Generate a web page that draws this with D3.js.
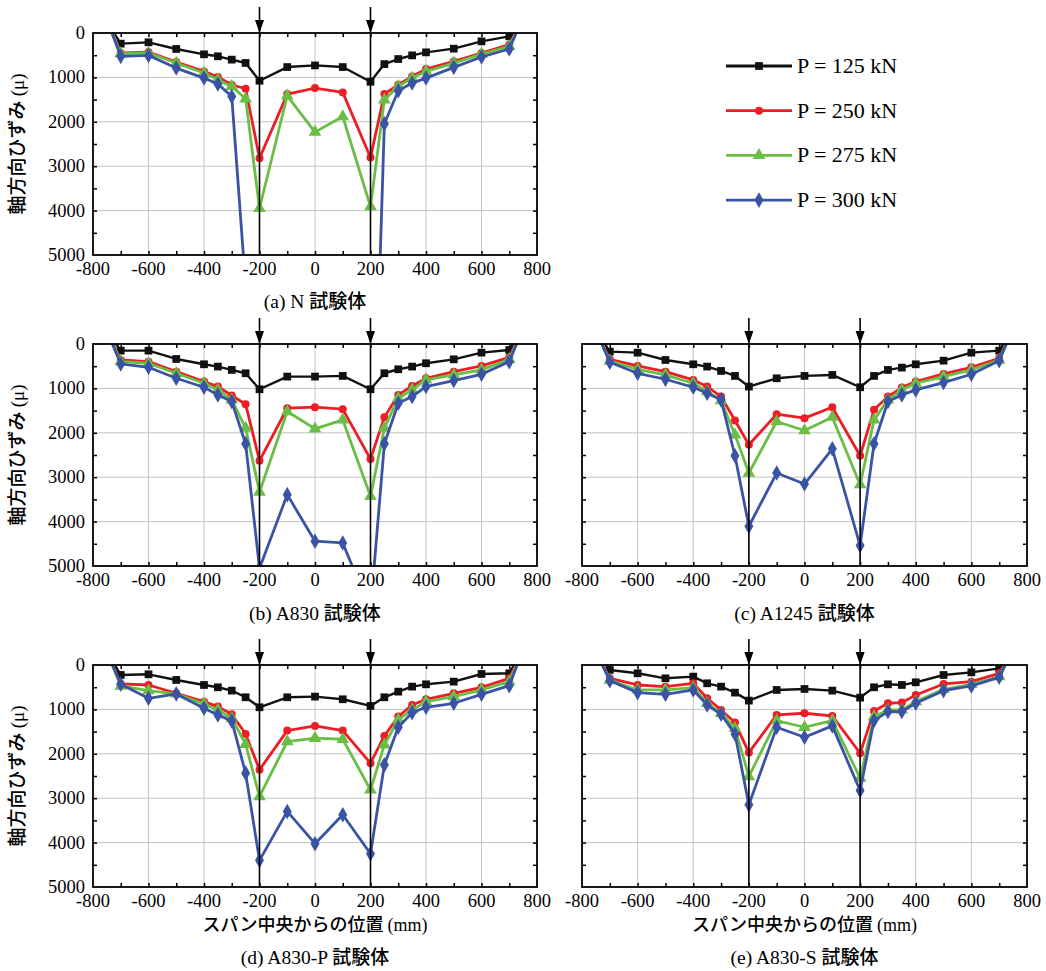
<!DOCTYPE html>
<html>
<head>
<meta charset="utf-8">
<script src="https://cdn.jsdelivr.net/npm/d3@7"></script>
<style>
  body { margin: 0; background: #fff; }
  svg { display: block; }
</style>
</head>
<body>
<script>
// Measuring positions along the span (mm); the end points lie above the chart and get clipped
const positions = [-750, -700, -600, -500, -400, -350, -300, -250, -200, -100, 0, 100, 200, 250, 300, 350, 400, 500, 600, 700, 750];

// Load levels shown in the legend
const loads = ["P = 125 kN", "P = 250 kN", "P = 275 kN", "P = 300 kN"];

// Tick labels
const xTicks = [-800, -600, -400, -200, 0, 200, 400, 600, 800];
const yTicks = [0, 1000, 2000, 3000, 4000, 5000];

// (a) N specimen
const n125 = [-250, 240, 210, 360, 480, 525, 600, 675, 1075, 767, 730, 767, 1098, 700, 586, 504, 436, 353, 188, 75, -350];
const n250 = [-300, 450, 430, 654, 865, 993, 1165, 1256, 2820, 1376, 1240, 1338, 2805, 1376, 1165, 977, 812, 639, 450, 263, -350];
const n275 = [-300, 466, 450, 677, 902, 1053, 1203, 1481, 3947, 1414, 2233, 1880, 3910, 1504, 1203, 1015, 865, 677, 474, 300, -350];
const n300 = [-300, 526, 504, 790, 1015, 1150, 1428, 5700, 12000, null, null, null, 12000, 2045, 1300, 1128, 1015, 774, 541, 360, -350];

// (b) A830 specimen
const b125 = [-300, 150, 150, 337, 457, 509, 584, 659, 1019, 734, 734, 719, 1019, 659, 569, 509, 434, 345, 195, 135, -350];
const b250 = [-300, 360, 397, 622, 846, 959, 1161, 1356, 2629, 1446, 1423, 1468, 2592, 1648, 1146, 944, 772, 622, 494, 300, -350];
const b275 = [-300, 397, 434, 659, 884, 1034, 1258, 1895, 3333, 1520, 1910, 1708, 3430, 1895, 1221, 1034, 809, 697, 584, 345, -350];
const b300 = [-300, 450, 524, 772, 974, 1146, 1296, 2247, 5050, 3393, 4442, 4480, 6000, 2247, 1333, 1183, 959, 824, 682, 397, -350];

// (c) A1245 specimen
const c125 = [-300, 172, 195, 360, 457, 509, 607, 719, 959, 772, 719, 697, 974, 719, 584, 532, 457, 375, 195, 150, -350];
const c250 = [-300, 345, 494, 622, 809, 959, 1184, 1723, 2270, 1581, 1670, 1423, 2517, 1483, 1184, 981, 846, 674, 524, 322, -350];
const c275 = [-300, 382, 569, 697, 884, 1071, 1273, 2045, 2906, 1745, 1948, 1648, 3169, 1708, 1258, 1034, 884, 734, 584, 360, -350];
const c300 = [-300, 412, 659, 794, 974, 1109, 1258, 2517, 4105, 2906, 3154, 2360, 4539, 2247, 1296, 1146, 1034, 869, 682, 375, -350];

// (d) A830-P specimen
const d125 = [-300, 225, 210, 337, 450, 502, 577, 727, 952, 727, 712, 772, 922, 727, 600, 487, 435, 375, 202, 187, -350];
const d250 = [-300, 427, 450, 637, 825, 937, 1109, 1552, 2361, 1477, 1372, 1477, 2211, 1597, 1162, 900, 772, 637, 502, 300, -350];
const d275 = [-300, 472, 577, 652, 877, 1012, 1199, 1784, 2961, 1724, 1649, 1672, 2811, 1799, 1237, 1012, 825, 712, 562, 375, -350];
const d300 = [-300, 435, 750, 652, 975, 1124, 1259, 2436, 4400, 3298, 4025, 3373, 4250, 2249, 1402, 1072, 952, 862, 660, 465, -350];

// (e) A830-S specimen
const e125 = [-300, 112, 187, 300, 262, 412, 487, 622, 802, 562, 540, 577, 735, 502, 435, 450, 390, 225, 165, 75, -350];
const e250 = [-300, 300, 450, 487, 412, 750, 1012, 1297, 1972, 1124, 1087, 1147, 1987, 1034, 862, 847, 675, 427, 375, 187, -350];
const e275 = [-300, 337, 562, 562, 510, 862, 1087, 1424, 2511, 1252, 1402, 1252, 2549, 1162, 1012, 1012, 825, 547, 435, 262, -350];
const e300 = [-300, 352, 622, 660, 562, 900, 1109, 1552, 3148, 1402, 1627, 1372, 2826, 1252, 1049, 1049, 862, 577, 472, 277, -350];

const colors = ["#111111", "#ee1c25", "#6abd45", "#3a53a4"];
const symbols = [d3.symbolSquare, d3.symbolCircle, d3.symbolTriangle, d3.symbolDiamond];
const symbolSizes = [60, 50, 70, 70];

const serif = "'Liberation Serif', 'Times New Roman', serif";
const jp = "'Noto Sans CJK JP', sans-serif";

const panels = [
  { id: "a", left: 93, right: 537, top: 33, bottom: 255, yLabels: true, xTitle: false, capY: 308, label: "(a) N ", series: [n125, n250, n275, n300] },
  { id: "b", left: 93, right: 537, top: 344, bottom: 566, yLabels: true, xTitle: false, capY: 620, label: "(b) A830 ", series: [b125, b250, b275, b300] },
  { id: "c", left: 582, right: 1027, top: 344, bottom: 566, yLabels: false, xTitle: false, capY: 620, label: "(c) A1245 ", series: [c125, c250, c275, c300] },
  { id: "d", left: 93, right: 537, top: 665, bottom: 887, yLabels: true, xTitle: true, capY: 964, label: "(d) A830-P ", series: [d125, d250, d275, d300] },
  { id: "e", left: 582, right: 1027, top: 665, bottom: 887, yLabels: false, xTitle: true, capY: 964, label: "(e) A830-S ", series: [e125, e250, e275, e300] }
];

const width = 1046;
const height = 971;

const svg = d3.select("body")
  .append("svg")
  .attr("width", width)
  .attr("height", height);

panels.forEach(p => {
  const x = d3.scaleLinear().domain([-800, 800]).range([p.left, p.right]);
  const y = d3.scaleLinear().domain([0, 5000]).range([p.top, p.bottom]);
  const g = svg.append("g");

  // clip area for the curves
  svg.append("clipPath")
    .attr("id", "clip-" + p.id)
    .append("rect")
    .attr("x", p.left)
    .attr("y", p.top)
    .attr("width", p.right - p.left)
    .attr("height", p.bottom - p.top);

  // grid lines
  g.selectAll(".gx")
    .data(d3.range(-600, 601, 200))
    .enter()
    .append("line")
    .attr("x1", d => x(d)).attr("x2", d => x(d))
    .attr("y1", p.top).attr("y2", p.bottom)
    .attr("stroke", "#c4c4c4").attr("stroke-width", 1);
  g.selectAll(".gy")
    .data([1000, 2000, 3000, 4000])
    .enter()
    .append("line")
    .attr("x1", p.left).attr("x2", p.right)
    .attr("y1", d => y(d)).attr("y2", d => y(d))
    .attr("stroke", "#c4c4c4").attr("stroke-width", 1);

  // inward ticks, every 100 mm along x and every 500 along y
  const minorX = d3.range(-700, 701, 100);
  g.append("g")
    .attr("transform", `translate(0,${p.bottom})`)
    .call(d3.axisBottom(x).tickValues(minorX).tickSize(-4).tickFormat(""))
    .call(a => a.select(".domain").remove());
  g.append("g")
    .attr("transform", `translate(0,${p.top})`)
    .call(d3.axisTop(x).tickValues(minorX).tickSize(-4).tickFormat(""))
    .call(a => a.select(".domain").remove());
  const minorY = d3.range(500, 4501, 500);
  g.append("g")
    .attr("transform", `translate(${p.left},0)`)
    .call(d3.axisLeft(y).tickValues(minorY).tickSize(-4).tickFormat(""))
    .call(a => a.select(".domain").remove());
  g.append("g")
    .attr("transform", `translate(${p.right},0)`)
    .call(d3.axisRight(y).tickValues(minorY).tickSize(-4).tickFormat(""))
    .call(a => a.select(".domain").remove());
  g.selectAll(".tick line").attr("stroke", "#000").attr("stroke-width", 1.5);

  // x tick labels
  g.selectAll(".xl")
    .data(xTicks)
    .enter()
    .append("text")
    .attr("x", d => x(d))
    .attr("y", p.bottom + 20)
    .attr("text-anchor", "middle")
    .attr("font-family", serif)
    .attr("font-size", 18.5)
    .text(d => d);

  // y tick labels only on the left column
  if (p.yLabels) {
    g.selectAll(".yl")
      .data(yTicks)
      .enter()
      .append("text")
      .attr("x", p.left - 8)
      .attr("y", d => y(d) + 6)
      .attr("text-anchor", "end")
      .attr("font-family", serif)
      .attr("font-size", 18.5)
      .text(d => d);

    const yt = g.append("text")
      .attr("transform", `translate(24,${(p.top + p.bottom) / 2}) rotate(-90)`)
      .attr("text-anchor", "middle");
    yt.append("tspan").attr("font-family", jp).attr("font-size", 19).attr("font-weight", 500).text("軸方向ひずみ ");
    yt.append("tspan").attr("font-family", serif).attr("font-size", 19).text("(μ)");
  }

  // curves
  const line = d3.line()
    .defined(d => d[1] !== null)
    .x(d => x(d[0]))
    .y(d => y(d[1]));

  const plot = g.append("g").attr("clip-path", `url(#clip-${p.id})`);
  p.series.forEach((vals, i) => {
    const pts = positions.map((pos, k) => [pos, vals[k]]);
    plot.append("path")
      .datum(pts)
      .attr("fill", "none")
      .attr("stroke", colors[i])
      .attr("stroke-width", i === 0 ? 2.4 : 2.8)
      .attr("stroke-linejoin", "round")
      .attr("d", line);
    plot.selectAll(".m" + i)
      .data(pts.filter(d => d[1] !== null))
      .enter()
      .append("path")
      .attr("transform", d => `translate(${x(d[0])},${y(d[1])})`)
      .attr("d", d3.symbol().type(symbols[i]).size(symbolSizes[i]))
      .attr("fill", colors[i]);
  });

  // frame
  g.append("rect")
    .attr("x", p.left).attr("y", p.top)
    .attr("width", p.right - p.left).attr("height", p.bottom - p.top)
    .attr("fill", "none").attr("stroke", "#000").attr("stroke-width", 1.8);

  // loading points: vertical lines with arrows
  [-200, 200].forEach(v => {
    g.append("line")
      .attr("x1", x(v)).attr("x2", x(v))
      .attr("y1", p.top - 26).attr("y2", p.bottom)
      .attr("stroke", "#000").attr("stroke-width", 1.6);
    g.append("path")
      .attr("d", `M${x(v) - 4.5},${p.top - 13} L${x(v) + 4.5},${p.top - 13} L${x(v)},${p.top} Z`)
      .attr("fill", "#000");
  });

  // x axis title on the bottom row
  if (p.xTitle) {
    const xt = g.append("text")
      .attr("x", (p.left + p.right) / 2)
      .attr("y", 931)
      .attr("text-anchor", "middle");
    xt.append("tspan").attr("font-family", jp).attr("font-size", 18).attr("font-weight", 500).text("スパン中央からの位置 ");
    xt.append("tspan").attr("font-family", serif).attr("font-size", 18).text("(mm)");
  }

  // caption
  const cap = g.append("text")
    .attr("x", (p.left + p.right) / 2)
    .attr("y", p.capY)
    .attr("text-anchor", "middle");
  cap.append("tspan").attr("font-family", serif).attr("font-size", 19.5).text(p.label);
  cap.append("tspan").attr("font-family", jp).attr("font-size", 19).attr("font-weight", 500).text("試験体");
});

// legend
const legend = svg.append("g");
loads.forEach((name, i) => {
  const ly = 66 + i * 44.7;
  legend.append("line")
    .attr("x1", 726).attr("x2", 792)
    .attr("y1", ly).attr("y2", ly)
    .attr("stroke", colors[i]).attr("stroke-width", 2.8);
  legend.append("path")
    .attr("transform", `translate(759,${ly})`)
    .attr("d", d3.symbol().type(symbols[i]).size(symbolSizes[i]))
    .attr("fill", colors[i]);
  legend.append("text")
    .attr("x", 797)
    .attr("y", ly + 7)
    .attr("font-family", serif)
    .attr("font-size", 22)
    .text(name);
});
</script>
</body>
</html>
